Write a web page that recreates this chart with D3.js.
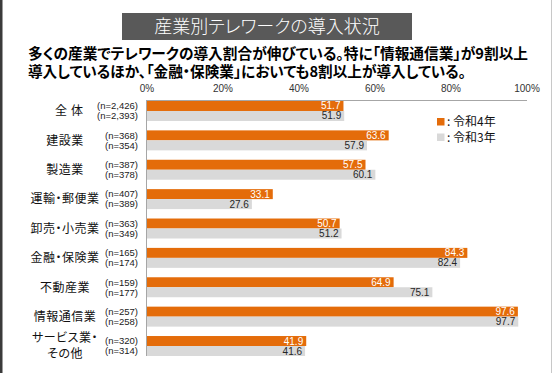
<!DOCTYPE html>
<html>
<head>
<meta charset="utf-8">
<script src="https://cdn.jsdelivr.net/npm/d3@7"></script>
<style>
  body { margin: 0; background: #fff; }
  text { font-family: "Noto Sans CJK JP", "Noto Sans", sans-serif; font-feature-settings: "palt"; }
</style>
</head>
<body>
<div id="chart"></div>
<script>
// data
const categories = ["全体", "建設業", "製造業", "運輸・郵便業", "卸売・小売業", "金融・保険業", "不動産業", "情報通信業", "サービス業・\nその他"];
const nR4 = ["(n=2,426)", "(n=368)", "(n=387)", "(n=407)", "(n=363)", "(n=165)", "(n=159)", "(n=257)", "(n=320)"];
const nR3 = ["(n=2,393)", "(n=354)", "(n=378)", "(n=389)", "(n=349)", "(n=174)", "(n=177)", "(n=258)", "(n=314)"];
const valuesR4 = [51.7, 63.6, 57.5, 33.1, 50.7, 84.3, 64.9, 97.6, 41.9];
const valuesR3 = [51.9, 57.9, 60.1, 27.6, 51.2, 82.4, 75.1, 97.7, 41.6];
const tickValues = [0, 20, 40, 60, 80, 100];
const seriesNames = ["令和4年", "令和3年"];

const W = 553, H = 373;
const orange = "#e46c0a", gray = "#d9d9d9";
const numFont = "Arial, 'Liberation Sans', sans-serif";

const svg = d3.select("#chart").append("svg")
  .attr("width", W).attr("height", H);

// frame
svg.append("rect").attr("x", 0).attr("y", 0).attr("width", 2.5).attr("height", H).attr("fill", "#3b3b3b");
svg.append("line").attr("x1", 551.5).attr("x2", 551.5).attr("y1", 0).attr("y2", H)
  .attr("stroke", "#c8c8c8").attr("stroke-width", 1);

// title box
svg.append("rect").attr("x", 122).attr("y", 13).attr("width", 290).attr("height", 27).attr("fill", "#595959");
svg.append("text").attr("x", 267).attr("y", 33).attr("text-anchor", "middle")
  .attr("fill", "#fff").style("font-size", "18px").style("font-weight", 300)
  .text("産業別テレワークの導入状況");

// subtitle
const sub = ["多くの産業でテレワークの導入割合が伸びている。特に「情報通信業」が9割以上",
             "導入しているほか、「金融・保険業」においても8割以上が導入している。"];
const subLen = [500, 438];
sub.forEach((s, i) => {
  svg.append("text").attr("x", 28).attr("y", 59 + i * 18)
    .attr("fill", "#000").style("font-size", "15px").style("font-weight", 700)
    .attr("textLength", subLen[i]).attr("lengthAdjust", "spacingAndGlyphs")
    .text(s);
});

// scales
const x = d3.scaleLinear().domain([0, 100]).range([147, 527]);
const y = d3.scaleBand().domain(categories).range([101, 356]).paddingInner(0.32).paddingOuter(0);
const barH = y.bandwidth() / 2;

// axis labels on top
svg.append("g").selectAll("text").data(tickValues).join("text")
  .attr("x", d => x(d)).attr("y", 92).attr("text-anchor", "middle")
  .attr("fill", "#333").style("font-size", "10px")
  .style("font-family", numFont)
  .text(d => d + "%");

// bars
const g = svg.append("g");
g.selectAll(".r4").data(categories).join("rect")
  .attr("x", x(0)).attr("y", d => y(d))
  .attr("width", (d, i) => x(valuesR4[i]) - x(0)).attr("height", barH)
  .attr("fill", orange);
g.selectAll(".r3").data(categories).join("rect")
  .attr("x", x(0)).attr("y", d => y(d) + barH)
  .attr("width", (d, i) => x(valuesR3[i]) - x(0)).attr("height", barH)
  .attr("fill", gray);

// value labels
g.selectAll(".l4").data(categories).join("text")
  .attr("x", (d, i) => x(valuesR4[i]) - 3).attr("y", d => y(d) + barH / 2)
  .attr("dy", "0.35em").attr("text-anchor", "end")
  .attr("fill", "#fff").style("font-size", "10px").style("font-family", numFont)
  .text((d, i) => valuesR4[i].toFixed(1));
g.selectAll(".l3").data(categories).join("text")
  .attr("x", (d, i) => x(valuesR3[i]) - 3).attr("y", d => y(d) + barH * 1.5)
  .attr("dy", "0.35em").attr("text-anchor", "end")
  .attr("fill", "#262626").style("font-size", "10px").style("font-family", numFont)
  .text((d, i) => valuesR3[i].toFixed(1));

// axis lines
svg.append("line").attr("x1", x(0)).attr("x2", x(100)).attr("y1", 100.5).attr("y2", 100.5)
  .attr("stroke", "#a6a6a6");
svg.append("line").attr("x1", x(0) - 0.5).attr("x2", x(0) - 0.5).attr("y1", 100).attr("y2", 356)
  .attr("stroke", "#a6a6a6");

// n labels
g.selectAll(".n4").data(categories).join("text")
  .attr("x", 138).attr("y", d => y(d) + barH / 2).attr("dy", "0.35em")
  .attr("text-anchor", "end").attr("fill", "#222").style("font-size", "9.5px").style("font-family", numFont)
  .text((d, i) => nR4[i]);
g.selectAll(".n3").data(categories).join("text")
  .attr("x", 138).attr("y", d => y(d) + barH * 1.5).attr("dy", "0.35em")
  .attr("text-anchor", "end").attr("fill", "#222").style("font-size", "9.5px").style("font-family", numFont)
  .text((d, i) => nR3[i]);

// category labels
categories.forEach(c => {
  const lines = c.split("\n");
  const cy = y(c) + barH;
  lines.forEach((ln, j) => {
    svg.append("text")
      .attr("x", c === "全体" ? 71 : 65)
      .attr("y", cy + (j - (lines.length - 1) / 2) * 16)
      .attr("dy", "0.36em").attr("text-anchor", "middle")
      .attr("fill", "#111").style("font-size", "12px")
      .style("letter-spacing", c === "全体" ? "4px" : "0.5px")
      .text(ln);
  });
});

// legend
const legend = svg.append("g");
[orange, gray].forEach((col, i) => {
  legend.append("rect").attr("x", 437).attr("y", 118 + i * 15.5).attr("width", 7.5).attr("height", 7.5).attr("fill", col);
  legend.append("text").attr("x", 447).attr("y", 122 + i * 15.5).attr("dy", "0.36em")
    .attr("fill", "#111").style("font-size", "12px")
    .text(": " + seriesNames[i]);
});
</script>
</body>
</html>
